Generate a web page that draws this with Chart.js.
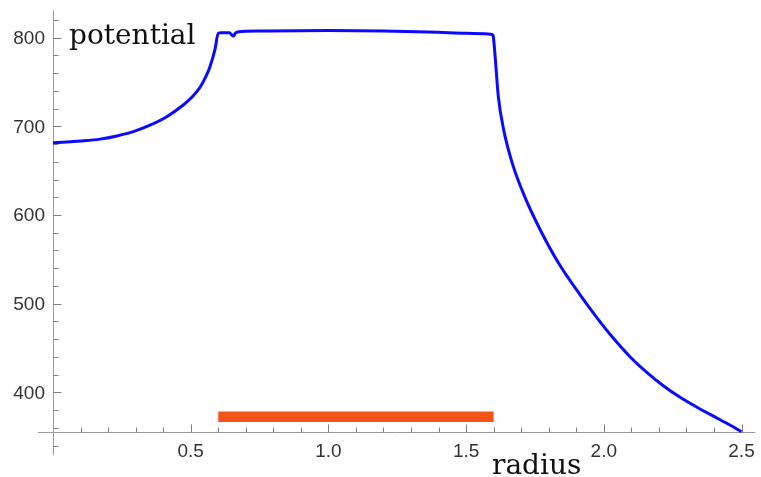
<!DOCTYPE html>
<html>
<head>
<meta charset="utf-8">
<script src="https://cdn.jsdelivr.net/npm/chart.js@4/dist/chart.umd.min.js"></script>
<style>
  html, body { margin: 0; padding: 0; background: #ffffff; }
  #wrap { width: 761px; height: 477px; }
</style>
</head>
<body>
<div id="wrap"><canvas id="plot" width="761" height="477"></canvas></div>
<script>
// Potential as a function of radius
const radius = [0, 0.05, 0.1, 0.171, 0.232, 0.292, 0.35, 0.413, 0.473, 0.505, 0.534, 0.555,
  0.57, 0.588, 0.6, 0.61, 0.64, 0.648, 0.655, 0.662, 0.67, 0.75, 1.0, 1.2, 1.4, 1.5,
  1.59, 1.598, 1.6025, 1.6074, 1.617, 1.6365, 1.6678, 1.7128, 1.7695, 1.8362, 1.914,
  1.974, 2.035, 2.095, 2.156, 2.216, 2.277, 2.337, 2.398, 2.458, 2.5];
const potential = [681.6, 682.3, 683.4, 685.6, 689.2, 694, 701, 710.9, 724.1, 733, 744.1, 756,
  767.3, 786.5, 805, 805.5, 805.5, 803.5, 802, 805, 806.5, 807.5, 808, 807.5, 806, 805,
  804, 802.5, 790, 771, 733.5, 696, 658.3, 620.7, 583.1, 545.5, 509.9,
  484.6, 460.9, 440.2, 422.5, 407.5, 394.5, 383.5, 373.1, 363.1, 355.5];

// Shell marker (radial extent and level)
const shellRadius = [0.6, 1.6];
const shellLevel = [372.5, 372.5];

// Axis ticks
const xMajorTicks = [0.5, 1.0, 1.5, 2.0, 2.5];
const xTickLabels = ['0.5', '1.0', '1.5', '2.0', '2.5'];
const xMinorTicks = [0.1, 0.2, 0.3, 0.4, 0.6, 0.7, 0.8, 0.9, 1.1, 1.2, 1.3, 1.4,
  1.6, 1.7, 1.8, 1.9, 2.1, 2.2, 2.3, 2.4];
const yMajorTicks = [400, 500, 600, 700, 800];
const yTickLabels = ['400', '500', '600', '700', '800'];
const yMinorTicks = [340, 360, 380, 420, 440, 460, 480, 520, 540, 560, 580,
  620, 640, 660, 680, 720, 740, 760, 780, 820];

const xAxisLabel = 'radius';
const yAxisLabel = 'potential';

// Axes cross at radius 0, potential 355
const axisOrigin = { x: 0, y: 355 };
const xAxisSpan = [-0.055, 2.55];
const yAxisSpan = [329, 831];

const axesPlugin = {
  id: 'crossAxes',
  beforeDatasetsDraw(chart) {
    const ctx = chart.ctx;
    const xs = chart.scales.x, ys = chart.scales.y;
    const ox = xs.getPixelForValue(axisOrigin.x);
    const oy = ys.getPixelForValue(axisOrigin.y);
    ctx.save();
    ctx.strokeStyle = '#9a9a9a';
    ctx.lineWidth = 1;
    ctx.beginPath();
    // x axis line
    ctx.moveTo(xs.getPixelForValue(xAxisSpan[0]), Math.round(oy) + 0.5);
    ctx.lineTo(xs.getPixelForValue(xAxisSpan[1]), Math.round(oy) + 0.5);
    // y axis line
    ctx.moveTo(Math.round(ox) + 0.5, ys.getPixelForValue(yAxisSpan[0]));
    ctx.lineTo(Math.round(ox) + 0.5, ys.getPixelForValue(yAxisSpan[1]));
    ctx.stroke();

    ctx.strokeStyle = '#808080';
    ctx.beginPath();
    const yBase = Math.round(oy) + 0.5;
    xMajorTicks.forEach(v => {
      const px = Math.round(xs.getPixelForValue(v)) + 0.5;
      ctx.moveTo(px, yBase); ctx.lineTo(px, yBase - 8);
    });
    xMinorTicks.forEach(v => {
      const px = Math.round(xs.getPixelForValue(v)) + 0.5;
      ctx.moveTo(px, yBase); ctx.lineTo(px, yBase - 5);
    });
    const xBase = Math.round(ox) + 0.5;
    yMajorTicks.forEach(v => {
      const py = Math.round(ys.getPixelForValue(v)) + 0.5;
      ctx.moveTo(xBase, py); ctx.lineTo(xBase + 8, py);
    });
    yMinorTicks.forEach(v => {
      const py = Math.round(ys.getPixelForValue(v)) + 0.5;
      ctx.moveTo(xBase, py); ctx.lineTo(xBase + 5, py);
    });
    ctx.stroke();

    // tick labels
    ctx.fillStyle = '#333333';
    ctx.font = '19px "Liberation Sans", Arial, sans-serif';
    ctx.textAlign = 'center';
    ctx.textBaseline = 'alphabetic';
    xMajorTicks.forEach((v, i) => {
      ctx.fillText(xTickLabels[i], xs.getPixelForValue(v), oy + 25);
    });
    ctx.textAlign = 'right';
    ctx.textBaseline = 'middle';
    yMajorTicks.forEach((v, i) => {
      ctx.fillText(yTickLabels[i], ox - 8, ys.getPixelForValue(v) + 1);
    });

    // axis titles
    ctx.fillStyle = '#111111';
    ctx.font = '28px "DejaVu Serif", serif';
    ctx.textAlign = 'left';
    ctx.textBaseline = 'alphabetic';
    ctx.fillText(yAxisLabel, 69, 43.5);
    ctx.fillText(xAxisLabel, 492, 474);
    ctx.restore();
  }
};

new Chart(document.getElementById('plot'), {
  type: 'line',
  data: {
    datasets: [
      {
        label: 'potential',
        data: radius.map((r, i) => ({ x: r, y: potential[i] })),
        borderColor: '#0a0aff',
        borderWidth: 3,
        pointRadius: 0,
        cubicInterpolationMode: 'monotone',
        fill: false
      },
      {
        label: 'shell',
        data: shellRadius.map((r, i) => ({ x: r, y: shellLevel[i] })),
        borderColor: '#f4561a',
        borderWidth: 10.5,
        borderCapStyle: 'butt',
        pointRadius: 0,
        fill: false
      }
    ]
  },
  options: {
    responsive: false,
    animation: false,
    devicePixelRatio: 1,
    layout: { padding: 0 },
    plugins: { legend: { display: false }, tooltip: { enabled: false }, title: { display: false } },
    scales: {
      x: { type: 'linear', display: false, min: -0.1924, max: 2.5708 },
      y: { type: 'linear', display: false, min: 304.5, max: 842.5 }
    }
  },
  plugins: [axesPlugin]
});
</script>
</body>
</html>
